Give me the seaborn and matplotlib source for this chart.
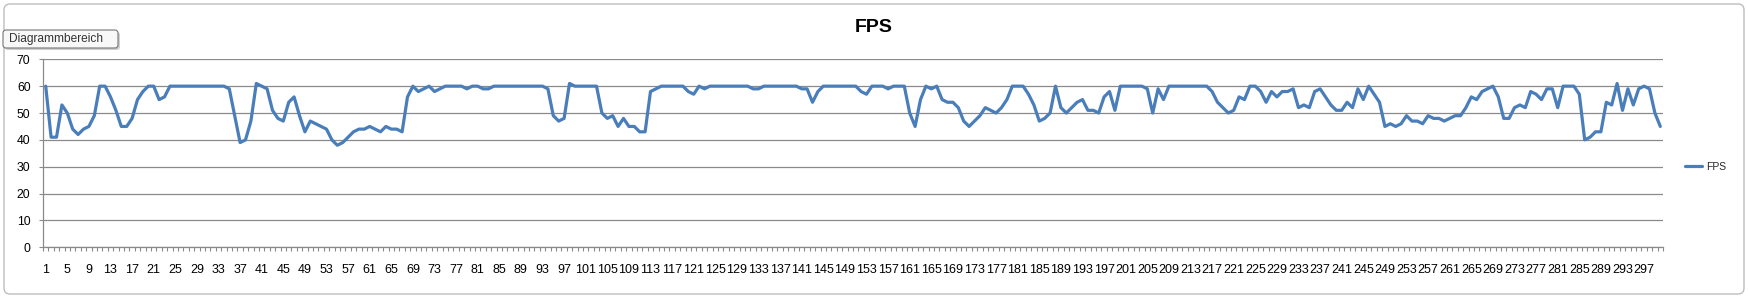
import numpy as np
import pandas as pd
import matplotlib
matplotlib.use("Agg")
import matplotlib.pyplot as plt
import seaborn as sns
from matplotlib.patches import FancyBboxPatch
from matplotlib.ticker import FixedLocator

# ---- data (FPS per frame) ----
fps = [
    60, 41, 41, 53, 50, 44, 42, 44, 45, 49,
    60, 60, 56, 51, 45, 45, 48, 55, 58, 60,
    60, 55, 56, 60, 60, 60, 60, 60, 60, 60,
    60, 60, 60, 60, 59, 49, 39, 40, 47, 61,
    60, 59, 51, 48, 47, 54, 56, 49, 43, 47,
    46, 45, 44, 40, 38, 39, 41, 43, 44, 44,
    45, 44, 43, 45, 44, 44, 43, 56, 60, 58,
    59, 60, 58, 59, 60, 60, 60, 60, 59, 60,
    60, 59, 59, 60, 60, 60, 60, 60, 60, 60,
    60, 60, 60, 59, 49, 47, 48, 61, 60, 60,
    60, 60, 60, 50, 48, 49, 45, 48, 45, 45,
    43, 43, 58, 59, 60, 60, 60, 60, 60, 58,
    57, 60, 59, 60, 60, 60, 60, 60, 60, 60,
    60, 59, 59, 60, 60, 60, 60, 60, 60, 60,
    59, 59, 54, 58, 60, 60, 60, 60, 60, 60,
    60, 58, 57, 60, 60, 60, 59, 60, 60, 60,
    50, 45, 55, 60, 59, 60, 55, 54, 54, 52,
    47, 45, 47, 49, 52, 51, 50, 52, 55, 60,
    60, 60, 57, 53, 47, 48, 50, 60, 52, 50,
    52, 54, 55, 51, 51, 50, 56, 58, 51, 60,
    60, 60, 60, 60, 59, 50, 59, 55, 60, 60,
    60, 60, 60, 60, 60, 60, 58, 54, 52, 50,
    51, 56, 55, 60, 60, 58, 54, 58, 56, 58,
    58, 59, 52, 53, 52, 58, 59, 56, 53, 51,
    51, 54, 52, 59, 55, 60, 57, 54, 45, 46,
    45, 46, 49, 47, 47, 46, 49, 48, 48, 47,
    48, 49, 49, 52, 56, 55, 58, 59, 60, 56,
    48, 48, 52, 53, 52, 58, 57, 55, 59, 59,
    52, 60, 60, 60, 57, 40, 41, 43, 43, 54,
    53, 61, 51, 59, 53, 59, 60, 59, 50, 45,
]
frames = list(range(1, len(fps) + 1))
x_tick_labels = frames[::4]
y_ticks = [0, 10, 20, 30, 40, 50, 60, 70]
series_name = "FPS"
chart_title = "FPS"
tooltip_text = "Diagrammbereich"

# ---- styling ----
sns.set_theme(style="white")
plt.rcParams['font.family'] = ['Liberation Sans', 'DejaVu Sans']

W, H = 1748, 298
fig = plt.figure(figsize=(W / 100, H / 100), dpi=100)
fig.patch.set_facecolor("white")

# outer chart-area border
border = FancyBboxPatch((4 / 100, 4 / 100), (W - 8) / 100, (H - 8) / 100,
                        boxstyle="round,pad=0,rounding_size=0.06",
                        transform=fig.dpi_scale_trans, fill=False,
                        edgecolor="#BEBEBE", linewidth=1.0)
fig.add_artist(border)

ax = fig.add_axes([43 / W, (H - 247.3) / H, 1620 / W, 188 / H])
df = pd.DataFrame({"Frame": frames, series_name: fps})
sns.lineplot(data=df, x="Frame", y=series_name, ax=ax, color="#4A7EBB",
             linewidth=2.3, label=series_name)

grid_col = "#8A8A8A"
ax.set_xlim(0.5, len(fps) + 0.5)
ax.set_ylim(0, 70)
ax.set_yticks(y_ticks)
ax.yaxis.grid(True, color=grid_col, linewidth=0.9)
ax.xaxis.grid(False)
ax.set_axisbelow(True)

ax.set_xticks(x_tick_labels)
ax.set_xticklabels([str(v) for v in x_tick_labels])
ax.xaxis.set_minor_locator(FixedLocator(np.arange(0.5, len(fps) + 1, 1)))
ax.tick_params(axis='x', which='major', length=0, pad=12, labelsize=9,
               labelcolor="black")
ax.tick_params(axis='x', which='minor', length=3, width=0.8, color=grid_col,
               direction='out', bottom=True)
ax.tick_params(axis='y', which='major', length=3, width=0.8, color=grid_col,
               direction='out', left=True, pad=6, labelsize=8.8, labelcolor="black")

for s in ("top", "right"):
    ax.spines[s].set_visible(False)
for s in ("left", "bottom"):
    ax.spines[s].set_color(grid_col)
    ax.spines[s].set_linewidth(0.9)
ax.set_xlabel("")
ax.set_ylabel("")

leg = ax.legend(loc="center left", bbox_to_anchor=(1676 / W, 1 - 167 / H),
                bbox_transform=fig.transFigure, frameon=False, fontsize=7.5,
                handlelength=1.6, handletextpad=0.4)

fig.text(874 / W, 1 - 28 / H, chart_title, ha="center", va="center",
         fontsize=14, fontweight="bold", color="black")

# tooltip box with a soft shadow (pixel-based placement)
shadow = FancyBboxPatch((5 / 100, (H - 50) / 100), 115 / 100, 18 / 100,
                        boxstyle="round,pad=0,rounding_size=0.03",
                        transform=fig.dpi_scale_trans, facecolor="#D0D0D0",
                        edgecolor="none")
fig.add_artist(shadow)
tip = FancyBboxPatch((3 / 100, (H - 48) / 100), 115 / 100, 18 / 100,
                     boxstyle="round,pad=0,rounding_size=0.03",
                     transform=fig.dpi_scale_trans, facecolor="#F8F8F8",
                     edgecolor="#767676", linewidth=0.8)
fig.add_artist(tip)
fig.text(9 / W, 1 - 39 / H, tooltip_text, ha="left", va="center", fontsize=8.6,
         color="#333333")

fig.savefig("out.png", dpi=100, facecolor="white")
